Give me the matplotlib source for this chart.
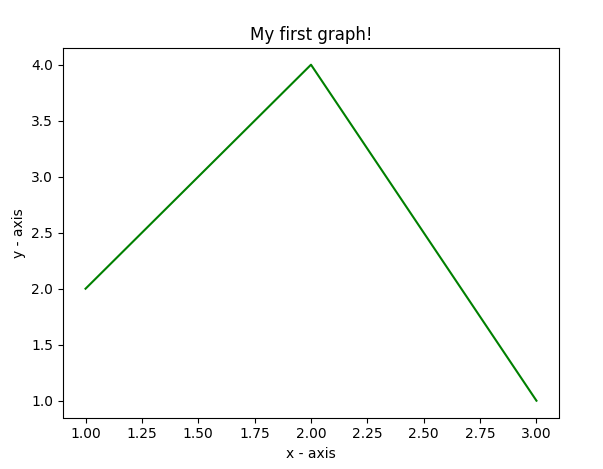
import matplotlib
matplotlib.use("Agg")
import matplotlib.pyplot as plt

# data
x_values = [1, 2, 3]
y_values = [2, 4, 1]

fig = plt.figure(figsize=(6.03, 4.69), dpi=100)
W, H = 603, 469
ax = fig.add_axes([63 / W, 1 - 417.5 / H, 496 / W, 369.6 / H])

ax.plot(x_values, y_values, color="green")
ax.set_xlabel("x - axis")
ax.set_ylabel("y - axis")
ax.set_title("My first graph!")

fig.savefig("out.png", dpi=100)
